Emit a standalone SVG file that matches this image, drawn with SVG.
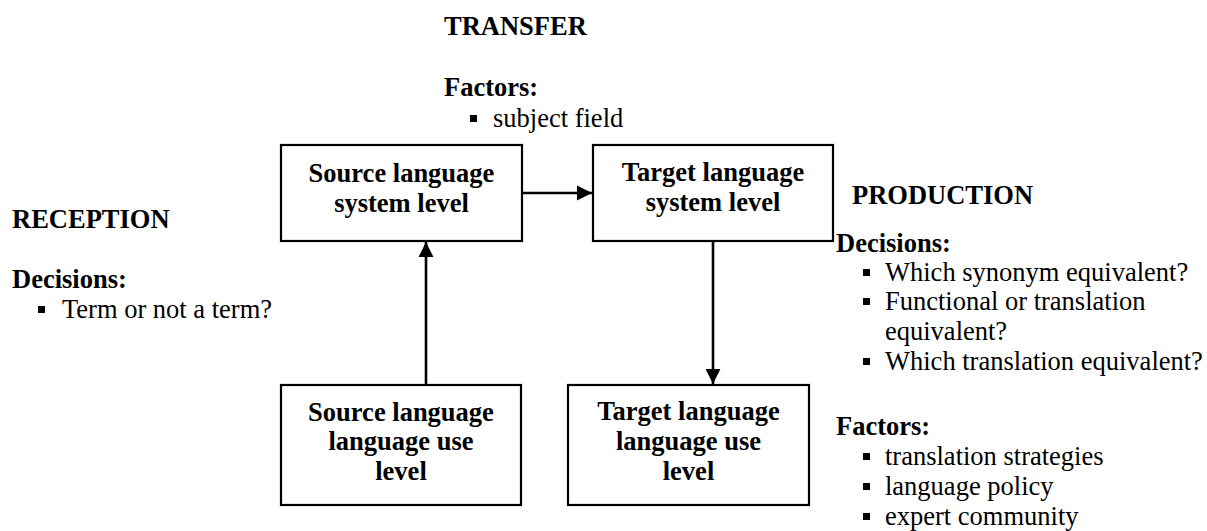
<svg xmlns="http://www.w3.org/2000/svg" width="1207" height="531" viewBox="0 0 1207 531">
<style>
text{font-family:"Liberation Serif","Times New Roman",serif;font-size:26.5px;fill:#000}
.b{font-weight:bold}
.c{text-anchor:middle}
.box{fill:#fff;stroke:#000;stroke-width:2.2}
.con{stroke:#000;stroke-width:2.6;fill:none}
.bul{fill:#000}
</style>
<defs>
<marker id="ah" markerUnits="userSpaceOnUse" markerWidth="16" markerHeight="16" viewBox="0 0 16 16" refX="15" refY="8" orient="auto">
<path d="M0,0.6 L15,8 L0,15.4 Z" fill="#000"/>
</marker>
</defs>
<rect width="1207" height="531" fill="#fff"/>
<g id="connectors">
<line class="con" x1="522" y1="193" x2="592" y2="193" marker-end="url(#ah)"/>
<line class="con" x1="426" y1="385" x2="426" y2="242" marker-end="url(#ah)"/>
<line class="con" x1="713" y1="241" x2="713" y2="384" marker-end="url(#ah)"/>
</g>
<g id="src-system">
<rect class="box" x="281" y="145" width="241" height="96"/>
<text class="b c" x="401.5" y="182">Source language</text>
<text class="b c" x="401.5" y="212">system level</text>
</g>
<g id="tgt-system">
<rect class="box" x="593" y="145" width="240" height="96"/>
<text class="b c" x="713" y="181">Target language</text>
<text class="b c" x="713" y="211">system level</text>
</g>
<g id="src-use">
<rect class="box" x="281" y="385" width="240" height="120"/>
<text class="b c" x="401" y="421">Source language</text>
<text class="b c" x="401" y="450">language use</text>
<text class="b c" x="401" y="480">level</text>
</g>
<g id="tgt-use">
<rect class="box" x="568" y="385" width="241" height="120"/>
<text class="b c" x="688.5" y="420">Target language</text>
<text class="b c" x="688.5" y="450">language use</text>
<text class="b c" x="688.5" y="480">level</text>
</g>
<g id="transfer">
<text class="b" x="444" y="35">TRANSFER</text>
<text class="b" x="444" y="96">Factors:</text>
<rect class="bul" x="470" y="115" width="7" height="7"/>
<text x="493" y="127">subject field</text>
</g>
<g id="reception">
<text class="b" x="12" y="228">RECEPTION</text>
<text class="b" x="12" y="288">Decisions:</text>
<rect class="bul" x="38" y="306" width="7" height="7"/>
<text x="62" y="318">Term or not a term?</text>
</g>
<g id="production">
<text class="b" x="852" y="204">PRODUCTION</text>
<text class="b" x="836" y="252">Decisions:</text>
<rect class="bul" x="863" y="269" width="7" height="7"/>
<text x="885" y="281">Which synonym equivalent?</text>
<rect class="bul" x="863" y="298" width="7" height="7"/>
<text x="885" y="310">Functional or translation</text>
<text x="885" y="340">equivalent?</text>
<rect class="bul" x="863" y="358" width="7" height="7"/>
<text x="885" y="370">Which translation equivalent?</text>
<text class="b" x="836" y="435">Factors:</text>
<rect class="bul" x="863" y="453" width="7" height="7"/>
<text x="885" y="465">translation strategies</text>
<rect class="bul" x="863" y="483" width="7" height="7"/>
<text x="885" y="495">language policy</text>
<rect class="bul" x="863" y="513" width="7" height="7"/>
<text x="885" y="525">expert community</text>
</g>
</svg>
